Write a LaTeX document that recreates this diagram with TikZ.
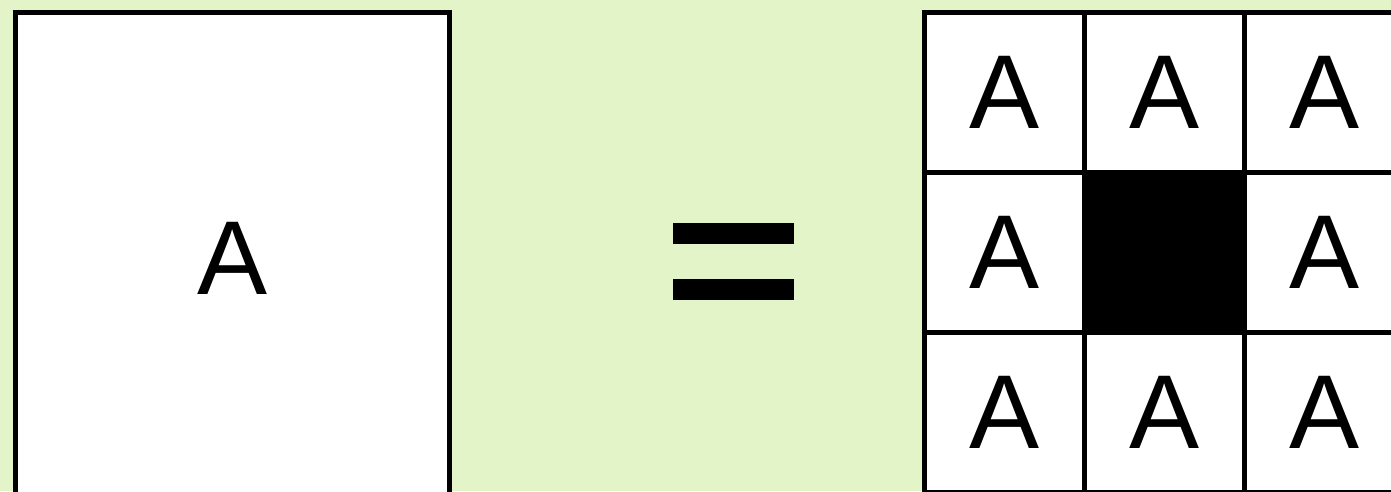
\documentclass[tikz,border=0pt]{standalone}
\usepackage{fontspec}
\setmainfont{Liberation Sans}
\usepackage{tikz}
\definecolor{bgreen}{RGB}{227,245,200}

\begin{document}
\begin{tikzpicture}[x=1pt,y=-1pt,
  big/.style={font=\fontsize{105}{105}\selectfont},
  cell/.style={draw,line width=5pt,fill=white,minimum width=160pt,minimum height=160pt,inner sep=0pt,outer sep=0pt,big},
  hole/.style={cell,fill=black},
  bar/.style={fill=black}]
\clip (0,0) rectangle (1391,491);
\fill[bgreen] (0,0) rectangle (1391,491);
\node[cell,minimum width=433.5pt,minimum height=492pt] (A) at (232.25,258.5) {A};
% equals sign
\fill[bar] (673,223) rectangle (794,244);
\fill[bar] (673,279) rectangle (794,300);
% 3x3 grid, middle cell left empty
\foreach \r/\y in {1/92.5,2/252.5,3/412.5}
  \foreach \c/\x in {1/1004.5,2/1164.5,3/1324.5}
    \node[cell] (c\r\c) at (\x,\y) {A};
\node[hole] (c22) at (1164.5,252.5) {};
\end{tikzpicture}
\end{document}
